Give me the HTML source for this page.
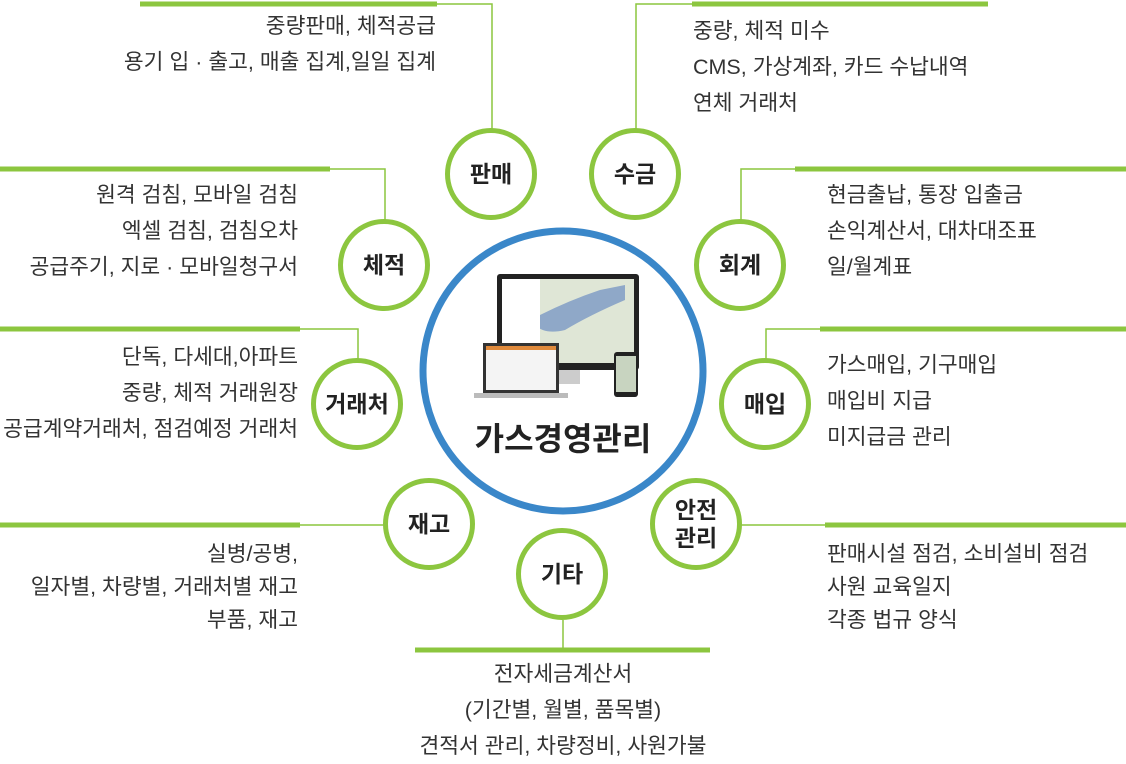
<!DOCTYPE html>
<html><head><meta charset="utf-8"><style>
body{margin:0;width:1126px;height:757px;background:#fff;position:relative;overflow:hidden;font-family:"Liberation Sans","Noto Sans CJK KR",sans-serif;color:#333}
.t{position:absolute;font-size:21.5px;line-height:36px;white-space:nowrap}
.r{text-align:right}
.c{position:absolute;width:82px;height:82px;border:5px solid #8cc63f;border-radius:50%;background:#fff;display:flex;align-items:center;justify-content:center;font-size:23px;font-weight:bold;color:#222;text-align:center;line-height:28px}
svg{position:absolute;left:0;top:0}
</style></head><body>
<svg width="1126" height="757">
<g stroke="#8cc63f" fill="none">
<g stroke-width="5">
<line x1="140" y1="4" x2="437" y2="4"/>
<line x1="692" y1="4" x2="988" y2="4"/>
<line x1="0" y1="169" x2="330" y2="169"/>
<line x1="795" y1="169" x2="1126" y2="169"/>
<line x1="0" y1="329" x2="300" y2="329"/>
<line x1="820" y1="329" x2="1126" y2="329"/>
<line x1="0" y1="525" x2="300" y2="525"/>
<line x1="825" y1="525" x2="1126" y2="525"/>
<line x1="415" y1="650" x2="710" y2="650"/>
</g>
<g stroke-width="1.5">
<polyline points="437,4 492,4 492,130"/>
<polyline points="692,4 636,4 636,130"/>
<polyline points="330,169 385,169 385,222"/>
<polyline points="795,169 741,169 741,222"/>
<polyline points="300,329 358,329 358,360"/>
<polyline points="820,329 766,329 766,360"/>
<line x1="300" y1="525" x2="385" y2="525"/>
<line x1="740" y1="525" x2="825" y2="525"/>
<line x1="563" y1="620" x2="563" y2="650"/>
</g></g>
<circle cx="563" cy="371" r="140" fill="#fff" stroke="#3a87c9" stroke-width="7"/>
<rect x="497" y="274" width="142" height="96" rx="3" fill="#222"/>
<rect x="502" y="279" width="132" height="84" fill="#dfe6d6"/>
<path d="M540 315 Q570 300 600 290 L625 285 L625 300 Q590 315 565 330 Q545 335 535 325Z" fill="#8fa8c8"/>
<rect x="502" y="279" width="38" height="84" fill="#fff"/>
<rect x="555" y="370" width="25" height="14" fill="#ccc"/>
<rect x="483" y="343" width="76" height="50" fill="#333"/>
<rect x="486" y="346" width="70" height="44" fill="#f4f4f4"/>
<rect x="486" y="346" width="70" height="4" fill="#e08a3c"/>
<rect x="474" y="393" width="94" height="5" fill="#bbb"/>
<rect x="614" y="352" width="24" height="45" rx="3" fill="#222"/>
<rect x="616" y="356" width="20" height="36" fill="#c8d4c0"/>
</svg>
<div class="t" style="top:414px;font-size:32px;font-weight:bold;color:#222;line-height:50px;left:460px;width:206px;text-align:center">가스경영관리</div>

<div class="c" style="left:445px;top:128px">판매</div>
<div class="c" style="left:589px;top:128px">수금</div>
<div class="c" style="left:338px;top:219px">체적</div>
<div class="c" style="left:694px;top:219px">회계</div>
<div class="c" style="left:311px;top:358px">거래처</div>
<div class="c" style="left:719px;top:358px">매입</div>
<div class="c" style="left:383px;top:478px">재고</div>
<div class="c" style="left:650px;top:478px">안전<br>관리</div>
<div class="c" style="left:516px;top:528px">기타</div>

<div class="t r" style="right:690px;top:8px">중량판매, 체적공급<br>용기 입 · 출고, 매출 집계,일일 집계</div>
<div class="t" style="left:693px;top:13px">중량, 체적 미수<br>CMS, 가상계좌, 카드 수납내역<br>연체 거래처</div>
<div class="t r" style="right:828px;top:177px">원격 검침, 모바일 검침<br>엑셀 검침, 검침오차<br>공급주기, 지로 · 모바일청구서</div>
<div class="t" style="left:827px;top:177px">현금출납, 통장 입출금<br>손익계산서, 대차대조표<br>일/월계표</div>
<div class="t r" style="right:828px;top:339px">단독, 다세대,아파트<br>중량, 체적 거래원장<br>공급계약거래처, 점검예정 거래처</div>
<div class="t" style="left:827px;top:347px">가스매입, 기구매입<br>매입비 지급<br>미지급금 관리</div>
<div class="t r" style="right:828px;top:538px;line-height:33px">실병/공병,<br>일자별, 차량별, 거래처별 재고<br>부품, 재고</div>
<div class="t" style="left:827px;top:538px;line-height:33px">판매시설 점검, 소비설비 점검<br>사원 교육일지<br>각종 법규 양식</div>
<div class="t" style="left:400px;top:656px;width:326px;text-align:center">전자세금계산서<br>(기간별, 월별, 품목별)<br>견적서 관리, 차량정비, 사원가불</div>
</body></html>
